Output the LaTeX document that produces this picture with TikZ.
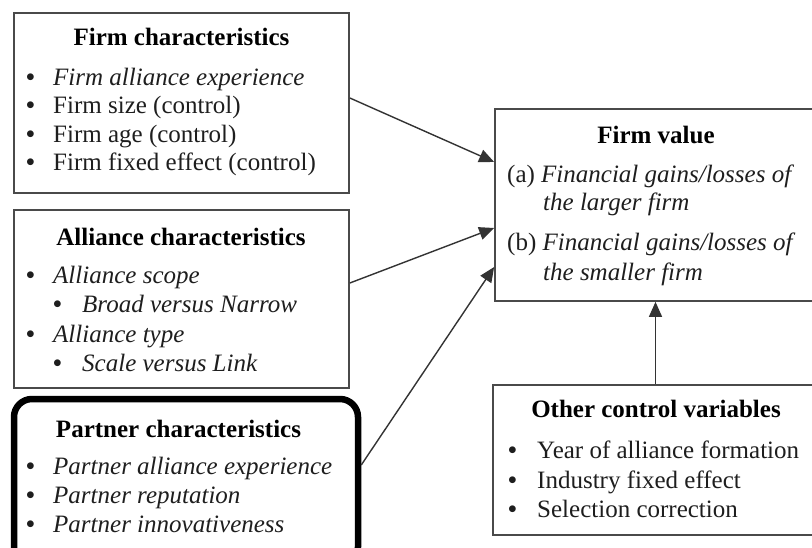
\documentclass[tikz,border=0pt]{standalone}
\usepackage{fontspec}
\setmainfont{Liberation Serif}
\usetikzlibrary{arrows.meta}
\definecolor{boxline}{HTML}{4A4A4A}
\definecolor{ink}{HTML}{1E1E1E}
\definecolor{arrowline}{HTML}{333333}
% bullet set to the left of the item text, #1 = gap to the text
\newcommand{\blt}[1]{\llap{\textbf{\textbullet}\hspace{#1}}}
\begin{document}
\begin{tikzpicture}[x=1pt,y=-1pt,
  box/.style={draw=boxline,line width=1.7pt,inner sep=0pt,fill=white},
  keybox/.style={draw=black,line width=6.5pt,rounded corners=18pt,inner sep=0pt,fill=white},
  title/.style={anchor=base,inner sep=0pt,text=black,font=\fontsize{25}{29}\selectfont\bfseries},
  item/.style={anchor=base west,inner sep=0pt,text=ink,font=\fontsize{25}{29}\selectfont},
  link/.style={draw=arrowline,line width=1.4pt,-{Triangle[length=15pt,width=13pt]}}]
\useasboundingbox (0,0) rectangle (812,547);
\clip (0,0) rectangle (812,547);
\fill[white] (0,0) rectangle (812,547);

% boxes
\node[box,minimum width=335pt,minimum height=180pt] (firm) at (181.5,103) {};
\node[box,minimum width=335pt,minimum height=178pt] (alliance) at (181.5,299) {};
\node[keybox,minimum width=344pt,minimum height=166pt] (partner) at (186,482) {};
\node[box,minimum width=323pt,minimum height=192pt] (value) at (656.5,205) {};
\node[box,minimum width=325pt,minimum height=150pt] (other) at (655.5,460) {};

% firm characteristics
\node[title] (firmT) at (181.5,45) {Firm characteristics};
\node[item] (firm1) at (53,85) {\blt{18.4pt}\textit{Firm alliance experience}};
\node[item] (firm2) at (53,113) {\blt{18.4pt}Firm size (control)};
\node[item] (firm3) at (53,142) {\blt{18.4pt}Firm age (control)};
\node[item] (firm4) at (53,170) {\blt{18.4pt}Firm fixed effect (control)};

% alliance characteristics
\node[title] (allT) at (181,245) {Alliance characteristics};
\node[item] (all1) at (53,283) {\blt{18.4pt}\textit{Alliance scope}};
\node[item] (all2) at (82,312) {\blt{20.4pt}\textit{Broad versus Narrow}};
\node[item] (all3) at (53,342) {\blt{18.4pt}\textit{Alliance type}};
\node[item] (all4) at (82,371) {\blt{20.4pt}\textit{Scale versus Link}};

% partner characteristics
\node[title] (parT) at (178.5,437) {Partner characteristics};
\node[item] (par1) at (53,474) {\blt{18.4pt}\textit{Partner alliance experience}};
\node[item] (par2) at (53,503) {\blt{18.4pt}\textit{Partner reputation}};
\node[item] (par3) at (53,532) {\blt{18.4pt}\textit{Partner innovativeness}};

% firm value
\node[title] (valT) at (656,143) {Firm value};
\node[item] (val1) at (507,182) {(a) \textit{Financial gains/losses of}};
\node[item] (val2) at (543,210) {\textit{the larger firm}};
\node[item] (val3) at (507,250) {(b) \textit{Financial gains/losses of}};
\node[item] (val4) at (543,280) {\textit{the smaller firm}};

% other control variables
\node[title] (othT) at (656,417) {Other control variables};
\node[item] (oth1) at (537,458) {\blt{20.4pt}Year of alliance formation};
\node[item] (oth2) at (537,488) {\blt{20.4pt}Industry fixed effect};
\node[item] (oth3) at (537,517) {\blt{20.4pt}Selection correction};

% connectors
\draw[link] ([yshift=5pt]firm.east) -- ([yshift=43pt]value.west);
\draw[link] ([yshift=16pt]alliance.east) -- ([yshift=-23pt]value.west);
\draw[link] ([yshift=17pt]partner.east) -- ([yshift=-62pt]value.west);
\draw[link] (other.north) -- (other.north |- value.south);
\end{tikzpicture}
\end{document}
